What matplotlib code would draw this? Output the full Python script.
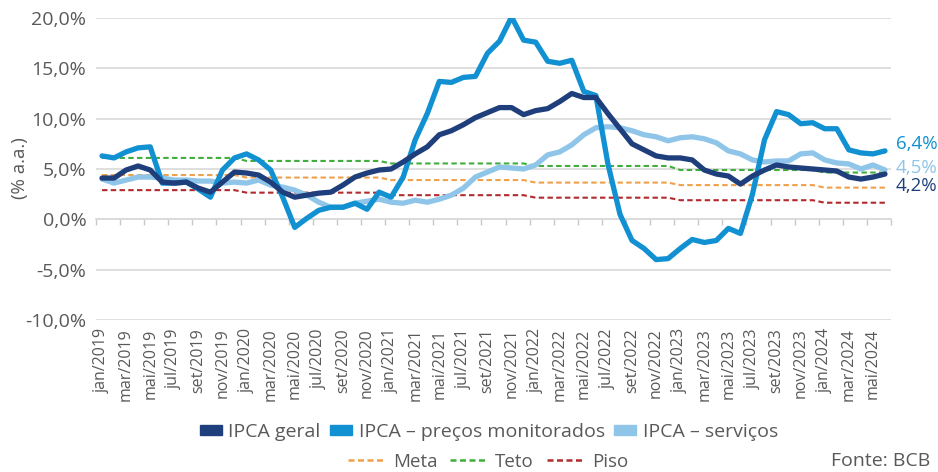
import numpy as np
import matplotlib
matplotlib.use("Agg")
import matplotlib.pyplot as plt
from matplotlib.patches import Patch
from matplotlib.lines import Line2D

plt.rcParams['font.family'] = ['Open Sans', 'DejaVu Sans']

meses = ['jan', 'fev', 'mar', 'abr', 'mai', 'jun', 'jul', 'ago', 'set', 'out', 'nov', 'dez']
categorias = [f"{m}/{a}" for a in range(2019, 2025) for m in meses][:66]

ipca_geral = [4.1, 4.1, 4.9, 5.3, 4.9, 3.7, 3.6, 3.7, 3.1, 2.7, 3.7, 4.7,
              4.6, 4.4, 3.7, 2.7, 2.2, 2.4, 2.6, 2.7, 3.4, 4.2, 4.6, 4.9,
              5.0, 5.7, 6.5, 7.2, 8.4, 8.8, 9.4, 10.1, 10.6, 11.1, 11.1, 10.4,
              10.8, 11.0, 11.7, 12.5, 12.1, 12.1, 10.5, 9.0, 7.5, 6.9, 6.3, 6.1,
              6.1, 5.9, 4.9, 4.5, 4.3, 3.5, 4.3, 4.9, 5.4, 5.2, 5.1, 5.0,
              4.9, 4.8, 4.2, 4.0, 4.2, 4.5]

ipca_monitorados = [6.3, 6.1, 6.7, 7.1, 7.2, 3.6, 3.6, 3.7, 3.0, 2.2, 4.9, 6.1,
                    6.5, 5.9, 4.9, 2.2, -0.8, 0.1, 0.9, 1.2, 1.2, 1.6, 1.0, 2.7,
                    2.2, 4.2, 7.9, 10.5, 13.7, 13.6, 14.1, 14.2, 16.5, 17.7, 20.1, 17.8,
                    17.6, 15.7, 15.5, 15.8, 12.7, 12.3, 5.5, 0.5, -2.1, -2.9, -4.0, -3.9,
                    -2.9, -2.0, -2.3, -2.1, -0.9, -1.4, 2.5, 7.9, 10.7, 10.4, 9.5, 9.6,
                    9.0, 9.0, 6.9, 6.6, 6.5, 6.8]

ipca_servicos = [4.0, 3.6, 3.9, 4.2, 4.2, 4.1, 3.9, 3.9, 3.8, 3.8, 3.6, 3.7,
                 3.6, 3.9, 3.4, 3.2, 2.9, 2.4, 1.7, 1.2, 1.2, 1.6, 1.8, 2.0,
                 1.7, 1.6, 1.9, 1.7, 2.0, 2.4, 3.1, 4.2, 4.7, 5.2, 5.1, 5.0,
                 5.4, 6.4, 6.7, 7.4, 8.4, 9.1, 9.2, 9.1, 8.8, 8.4, 8.2, 7.8,
                 8.1, 8.2, 8.0, 7.6, 6.8, 6.5, 5.9, 5.7, 5.8, 5.8, 6.5, 6.6,
                 5.9, 5.6, 5.5, 5.0, 5.4, 4.9]

# niveis anuais (2019..2024) lidos no grafico e meses por ano exibidos
meta_anual = [4.40, 4.15, 3.90, 3.65, 3.40, 3.15]
teto_anual = [6.10, 5.80, 5.55, 5.30, 4.90, 4.65]
piso_anual = [2.90, 2.65, 2.40, 2.15, 1.90, 1.65]
meses_por_ano = [12, 12, 12, 12, 12, 6]

meta = np.repeat(meta_anual, meses_por_ano)
teto = np.repeat(teto_anual, meses_por_ano)
piso = np.repeat(piso_anual, meses_por_ano)

rotulos_finais = ['6,4%', '4,5%', '4,2%']

C_GERAL = '#1F3F7C'
C_MON = '#1190D2'
C_SERV = '#8EC5E9'
C_META = '#F0A04B'
C_TETO = '#3FAE3A'
C_PISO = '#B22A2E'
GRAY = '#595959'
GRID = '#D9D9D9'

fig = plt.figure(figsize=(9.38, 4.72), dpi=100)
ax = fig.add_axes([96 / 938, 1 - 320 / 472, (891 - 96) / 938, (320 - 18) / 472])

x = np.arange(len(categorias))
dash = (0, (2.6, 1.6))
ax.plot(x, meta, color=C_META, lw=1.5, linestyle=dash, zorder=2)
ax.plot(x, teto, color=C_TETO, lw=1.5, linestyle=dash, zorder=2)
ax.plot(x, piso, color=C_PISO, lw=1.5, linestyle=dash, zorder=2)
kw = dict(lw=3.8, solid_joinstyle='round', solid_capstyle='round')
ax.plot(x, ipca_servicos, color=C_SERV, zorder=3, **kw)
ax.plot(x, ipca_monitorados, color=C_MON, zorder=4, **kw)
ax.plot(x, ipca_geral, color=C_GERAL, zorder=5, **kw)

ax.set_xlim(-0.5, len(categorias) - 0.5)
ax.set_ylim(-10, 20)
yt = np.arange(-10, 21, 5)
ax.set_yticks(yt)
ax.set_yticklabels([f"{v:.1f}%".replace('.', ',') for v in yt], fontsize=14, color=GRAY)
ax.tick_params(axis='y', length=0, pad=7)
ax.grid(axis='y', color=GRID, lw=1.2, zorder=0)
ax.set_axisbelow(True)
for s in ['left', 'right', 'top']:
    ax.spines[s].set_visible(False)
ax.spines['bottom'].set_position(('data', 0))
ax.spines['bottom'].set_color(GRID)
ax.spines['bottom'].set_linewidth(1.2)
ax.set_xticks(np.arange(-0.5, len(categorias), 2))
ax.set_xticklabels([])
ax.tick_params(axis='x', length=4, width=1.0, color='#C8C8C8', direction='out')

sec = ax.secondary_xaxis('bottom')
sec.set_xticks(x[::2])
sec.set_xticklabels(categorias[::2], rotation=90, fontsize=11.5, color=GRAY)
sec.tick_params(length=0, pad=6)
sec.spines['bottom'].set_visible(False)

fig.text(20 / 938, 1 - 168 / 472, '(% a.a.)', rotation=90, ha='center', va='center',
         fontsize=13.5, color=GRAY)

ax.text(65.9, 7.5, rotulos_finais[0], color=C_MON, fontsize=13.5, ha='left', va='center', clip_on=False)
ax.text(65.9, 5.1, rotulos_finais[1], color=C_SERV, fontsize=13.5, ha='left', va='center', clip_on=False)
ax.text(65.9, 3.3, rotulos_finais[2], color=C_GERAL, fontsize=13.5, ha='left', va='center', clip_on=False)

h1 = [Patch(color=C_GERAL, label='IPCA geral'),
      Patch(color=C_MON, label='IPCA – preços monitorados'),
      Patch(color=C_SERV, label='IPCA – serviços')]
fig.legend(handles=h1, ncol=3, loc='center', bbox_to_anchor=(489 / 938, 1 - 432 / 472),
           frameon=False, fontsize=14, labelcolor=GRAY, handlelength=1.1, handleheight=0.45,
           columnspacing=0.5, handletextpad=0.35, borderpad=0)
h2 = [Line2D([], [], color=C_META, lw=1.8, linestyle=(0, (2.4, 1.4)), label='Meta'),
      Line2D([], [], color=C_TETO, lw=1.8, linestyle=(0, (2.4, 1.4)), label='Teto'),
      Line2D([], [], color=C_PISO, lw=1.8, linestyle=(0, (2.4, 1.4)), label='Piso')]
fig.legend(handles=h2, ncol=3, loc='center', bbox_to_anchor=(488 / 938, 1 - 462 / 472),
           frameon=False, fontsize=13.5, labelcolor=GRAY, handlelength=2.0,
           columnspacing=0.7, handletextpad=0.4, borderpad=0)

fig.text(831 / 938, 1 - 461 / 472, 'Fonte: BCB', ha='left', va='center', fontsize=14, color=GRAY)

fig.savefig('out.png', dpi=100)
